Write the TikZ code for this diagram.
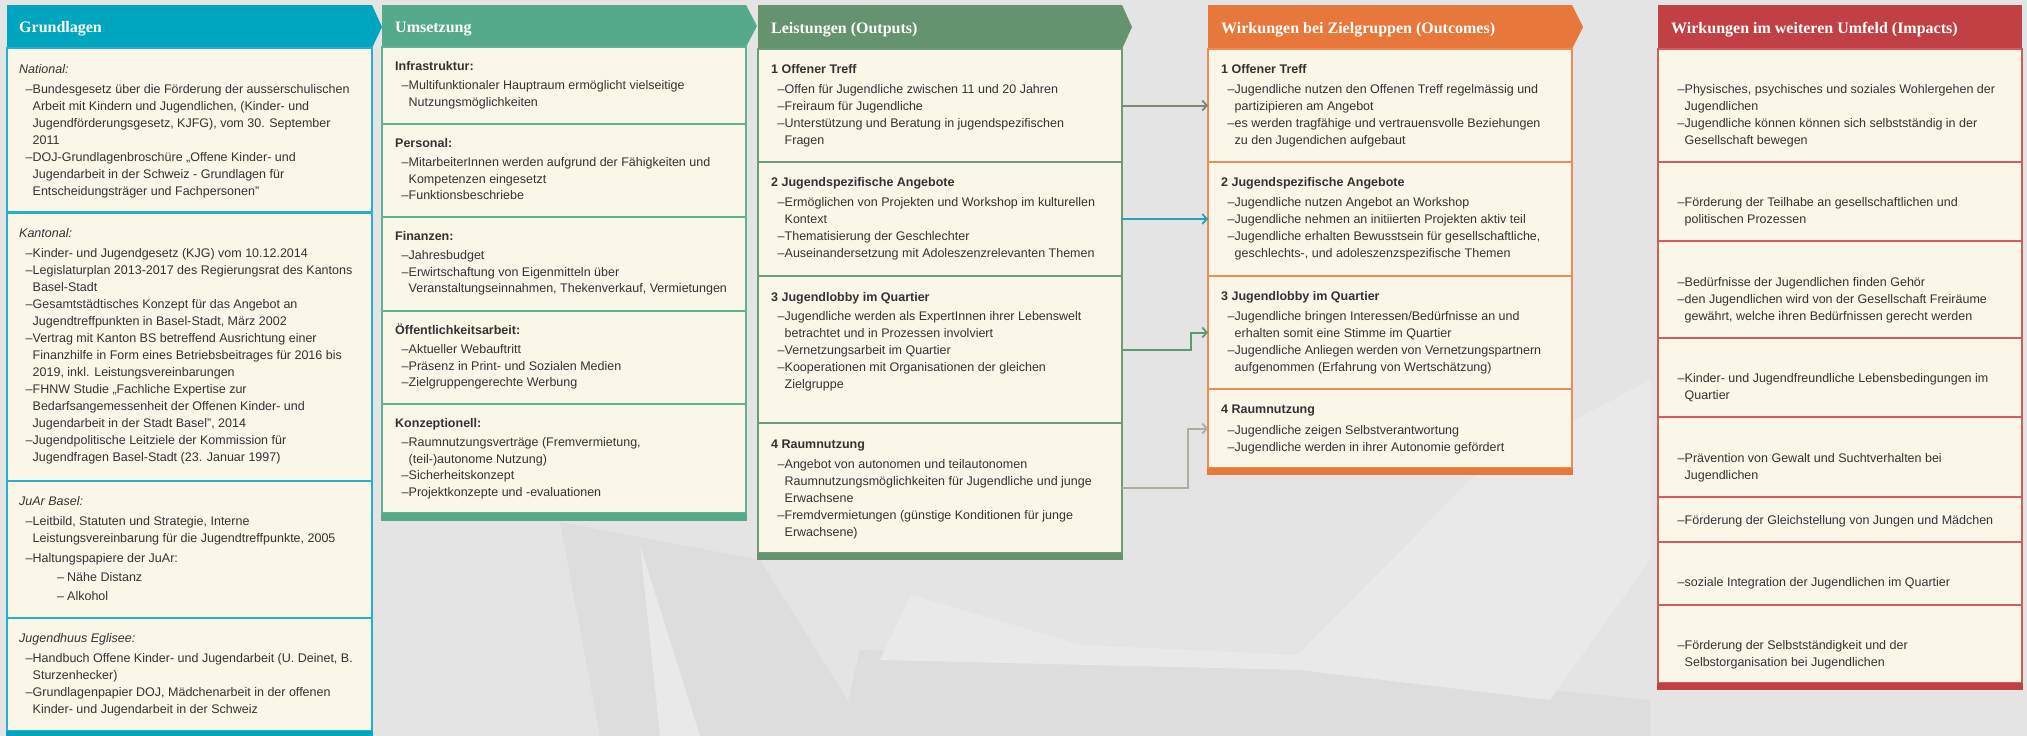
\documentclass[tikz,border=0pt]{standalone}
\usepackage{fontspec}
\setmainfont{Liberation Sans}
\newfontfamily\hdfont{Liberation Serif}
\usetikzlibrary{arrows.meta}

\definecolor{bgc}{HTML}{E4E4E4}
\definecolor{bgd}{HTML}{DDDDDD}
\definecolor{bgl}{HTML}{E9E9E9}
\definecolor{cream}{HTML}{FAF7E8}
\definecolor{cA}{HTML}{00A6C0}
\definecolor{cB}{HTML}{55AA8A}
\definecolor{cC}{HTML}{66936F}
\definecolor{cD}{HTML}{E8773B}
\definecolor{cE}{HTML}{C14044}
\definecolor{bA}{HTML}{27B0C8}
\definecolor{bB}{HTML}{5FB292}
\definecolor{bC}{HTML}{6F9B77}
\definecolor{bD}{HTML}{EE8B58}
\definecolor{bE}{HTML}{D35B5D}
\definecolor{txtc}{HTML}{333333}
\definecolor{aA}{HTML}{7F8670}
\definecolor{aB}{HTML}{22A6B4}
\definecolor{aC}{HTML}{5C9A72}
\definecolor{aD}{HTML}{AEAB9F}

\newcommand\itm{\hspace*{6.5pt}\makebox[7pt][l]{–}}
\newcommand\contln{\hspace*{13.5pt}}
\newcommand\subitm{\hspace*{38pt}\makebox[10pt][l]{–}}
\newcommand\ilbl[1]{\strut\textit{#1}}
\newcommand\blbl[1]{\strut\textbf{#1}}

\begin{document}
\begin{tikzpicture}[x=1pt,y=-1pt,
  sec/.style={draw=#1, line width=1.5pt, fill=cream, anchor=north west,
    inner sep=0pt, outer sep=0pt, minimum width=364pt},
  body/.style={anchor=north west, inner sep=0pt, align=left,
    font=\fontsize{12.5}{17}\selectfont, text=txtc},
  hd/.style={anchor=base west, inner sep=0pt, text=white,
    font=\hdfont\bfseries\fontsize{16}{19}\selectfont},
  arrowc/.style={draw=#1, line width=2pt,
    -{Straight Barb[length=4.5pt,width=10pt,line width=1.8pt]}}]

% background
\fill[bgc] (0,0) rectangle (2027,736);
\useasboundingbox (0,0) rectangle (2027,736);
\fill[bgd] (560,522) -- (760,560) -- (870,736) -- (600,736) -- cycle;
\fill[bgd] (860,650) -- (1082,655) -- (1298,665) -- (1650,700) -- (1650,736) -- (840,736) -- cycle;
\fill[bgl] (911,595) -- (1082,645) -- (1298,655) -- (1480,470) -- (1650,380) -- (1650,560) -- (1550,700) -- (1300,670) -- (880,660) -- cycle;
\fill[bgl] (640,545) -- (700,736) -- (660,736) -- cycle;

% ---------------- Column 1: Grundlagen
\fill[cA] (7,5) -- (372,5) -- (382,27) -- (372,48) -- (7,48) -- cycle;
\node[hd] (gh) at (19,32.5) {Grundlagen};
\node[sec=bA, minimum width=365pt, minimum height=164pt] (g1) at (7,48) {};
\node[sec=bA, minimum width=365pt, minimum height=268pt] (g2) at (7,213) {};
\node[sec=bA, minimum width=365pt, minimum height=137pt] (g3) at (7,481) {};
\node[sec=bA, minimum width=365pt, minimum height=113pt] (g4) at (7,618) {};
\fill[cA] (6.25,731) rectangle (372.75,740);

\node[body] (g1t) at (19,61) {\ilbl{National:}\\[3pt]
\itm Bundesgesetz über die Förderung der ausserschulischen\\
\contln Arbeit mit Kindern und Jugendlichen, (Kinder- und\\
\contln Jugendförderungsgesetz, KJFG), vom 30. September\\
\contln 2011\\
\itm DOJ-Grundlagenbroschüre „Offene Kinder- und\\
\contln Jugendarbeit in der Schweiz - Grundlagen für\\
\contln Entscheidungsträger und Fachpersonen”};

\node[body] (g2t) at (19,225) {\ilbl{Kantonal:}\\[3pt]
\itm Kinder- und Jugendgesetz (KJG) vom 10.12.2014\\
\itm Legislaturplan 2013-2017 des Regierungsrat des Kantons\\
\contln Basel-Stadt\\
\itm Gesamtstädtisches Konzept für das Angebot an\\
\contln Jugendtreffpunkten in Basel-Stadt, März 2002\\
\itm Vertrag mit Kanton BS betreffend Ausrichtung einer\\
\contln Finanzhilfe in Form eines Betriebsbeitrages für 2016 bis\\
\contln 2019, inkl. Leistungsvereinbarungen\\
\itm FHNW Studie „Fachliche Expertise zur\\
\contln Bedarfsangemessenheit der Offenen Kinder- und\\
\contln Jugendarbeit in der Stadt Basel”, 2014\\
\itm Jugendpolitische Leitziele der Kommission für\\
\contln Jugendfragen Basel-Stadt (23. Januar 1997)};

\node[body] (g3t) at (19,493) {\ilbl{JuAr Basel:}\\[3pt]
\itm Leitbild, Statuten und Strategie, Interne\\
\contln Leistungsvereinbarung für die Jugendtreffpunkte, 2005\\[3pt]
\itm Haltungspapiere der JuAr:\\[2pt]
\subitm Nähe Distanz\\[2pt]
\subitm Alkohol};

\node[body] (g4t) at (19,630) {\ilbl{Jugendhuus Eglisee:}\\[3pt]
\itm Handbuch Offene Kinder- und Jugendarbeit (U. Deinet, B.\\
\contln Sturzenhecker)\\
\itm Grundlagenpapier DOJ, Mädchenarbeit in der offenen\\
\contln Kinder- und Jugendarbeit in der Schweiz};

% ---------------- Column 2: Umsetzung
\fill[cB] (382,5) -- (746,5) -- (757,26) -- (746,47) -- (382,47) -- cycle;
\node[hd] (uh) at (395,32) {Umsetzung};
\node[sec=bB, minimum height=77pt] (u1) at (382,47) {};
\node[sec=bB, minimum height=93pt] (u2) at (382,124) {};
\node[sec=bB, minimum height=94pt] (u3) at (382,217) {};
\node[sec=bB, minimum height=93pt] (u4) at (382,311) {};
\node[sec=bB, minimum height=109pt] (u5) at (382,404) {};
\fill[cB] (381.25,513) rectangle (746.75,521);

\node[body, font=\fontsize{12.5}{16.7}\selectfont] (u1t) at (395,59) {\blbl{Infrastruktur:}\\[2pt]
\itm Multifunktionaler Hauptraum ermöglicht vielseitige\\
\contln Nutzungsmöglichkeiten};
\node[body, font=\fontsize{12.5}{16.7}\selectfont] (u2t) at (395,136) {\blbl{Personal:}\\[2pt]
\itm MitarbeiterInnen werden aufgrund der Fähigkeiten und\\
\contln Kompetenzen eingesetzt\\
\itm Funktionsbeschriebe};
\node[body, font=\fontsize{12.5}{16.7}\selectfont] (u3t) at (395,229) {\blbl{Finanzen:}\\[2pt]
\itm Jahresbudget\\
\itm Erwirtschaftung von Eigenmitteln über\\
\contln Veranstaltungseinnahmen, Thekenverkauf, Vermietungen};
\node[body, font=\fontsize{12.5}{16.7}\selectfont] (u4t) at (395,323) {\blbl{Öffentlichkeitsarbeit:}\\[2pt]
\itm Aktueller Webauftritt\\
\itm Präsenz in Print- und Sozialen Medien\\
\itm Zielgruppengerechte Werbung};
\node[body, font=\fontsize{12.5}{16.7}\selectfont] (u5t) at (395,416) {\blbl{Konzeptionell:}\\[2pt]
\itm Raumnutzungsverträge (Fremvermietung,\\
\contln (teil-)autonome Nutzung)\\
\itm Sicherheitskonzept\\
\itm Projektkonzepte und -evaluationen};

% ---------------- Column 3: Leistungen
\fill[cC] (758,5) -- (1122,5) -- (1132,27) -- (1122,49) -- (758,49) -- cycle;
\node[hd] (lh) at (771,33) {Leistungen (Outputs)};
\node[sec=bC, minimum height=113pt] (l1) at (758,49) {};
\node[sec=bC, minimum height=114pt] (l2) at (758,162) {};
\node[sec=bC, minimum height=147pt] (l3) at (758,276) {};
\node[sec=bC, minimum height=130pt] (l4) at (758,423) {};
\fill[cC] (757.25,553) rectangle (1122.75,560);

\node[body] (l1t) at (771,61) {\blbl{1 Offener Treff}\\[3pt]
\itm Offen für Jugendliche zwischen 11 und 20 Jahren\\
\itm Freiraum für Jugendliche\\
\itm Unterstützung und Beratung in jugendspezifischen\\
\contln Fragen};
\node[body] (l2t) at (771,174) {\blbl{2 Jugendspezifische Angebote}\\[3pt]
\itm Ermöglichen von Projekten und Workshop im kulturellen\\
\contln Kontext\\
\itm Thematisierung der Geschlechter\\
\itm Auseinandersetzung mit Adoleszenzrelevanten Themen};
\node[body] (l3t) at (771,289) {\blbl{3 Jugendlobby im Quartier}\\[2pt]
\itm Jugendliche werden als ExpertInnen ihrer Lebenswelt\\
\contln betrachtet und in Prozessen involviert\\
\itm Vernetzungsarbeit im Quartier\\
\itm Kooperationen mit Organisationen der gleichen\\
\contln Zielgruppe};
\node[body] (l4t) at (771,436) {\blbl{4 Raumnutzung}\\[3pt]
\itm Angebot von autonomen und teilautonomen\\
\contln Raumnutzungsmöglichkeiten für Jugendliche und junge\\
\contln Erwachsene\\
\itm Fremdvermietungen (günstige Konditionen für junge\\
\contln Erwachsene)};

% ---------------- Column 4: Outcomes
\fill[cD] (1208,5) -- (1572,5) -- (1583,27) -- (1572,49) -- (1208,49) -- cycle;
\node[hd] (oh) at (1221,33) {Wirkungen bei Zielgruppen (Outcomes)};
\node[sec=bD, minimum height=113pt] (o1) at (1208,49) {};
\node[sec=bD, minimum height=114pt] (o2) at (1208,162) {};
\node[sec=bD, minimum height=113pt] (o3) at (1208,276) {};
\node[sec=bD, minimum height=79pt] (o4) at (1208,389) {};
\fill[cD] (1207.25,468) rectangle (1572.75,475);

\node[body] (o1t) at (1221,61) {\blbl{1 Offener Treff}\\[3pt]
\itm Jugendliche nutzen den Offenen Treff regelmässig und\\
\contln partizipieren am Angebot\\
\itm es werden tragfähige und vertrauensvolle Beziehungen\\
\contln zu den Jugendichen aufgebaut};
\node[body] (o2t) at (1221,174) {\blbl{2 Jugendspezifische Angebote}\\[3pt]
\itm Jugendliche nutzen Angebot an Workshop\\
\itm Jugendliche nehmen an initiierten Projekten aktiv teil\\
\itm Jugendliche erhalten Bewusstsein für gesellschaftliche,\\
\contln geschlechts-, und adoleszenzspezifische Themen};
\node[body] (o3t) at (1221,288) {\blbl{3 Jugendlobby im Quartier}\\[3pt]
\itm Jugendliche bringen Interessen/Bedürfnisse an und\\
\contln erhalten somit eine Stimme im Quartier\\
\itm Jugendliche Anliegen werden von Vernetzungspartnern\\
\contln aufgenommen (Erfahrung von Wertschätzung)};
\node[body] (o4t) at (1221,401) {\blbl{4 Raumnutzung}\\[4pt]
\itm Jugendliche zeigen Selbstverantwortung\\
\itm Jugendliche werden in ihrer Autonomie gefördert};

% ---------------- Column 5: Impacts
\fill[cE] (1658,5) rectangle (2022,49);
\node[hd] (ih) at (1671,33) {Wirkungen im weiteren Umfeld (Impacts)};
\node[sec=bE, minimum height=113pt] (i1) at (1658,49) {};
\node[sec=bE, minimum height=79pt] (i2) at (1658,162) {};
\node[sec=bE, minimum height=97pt] (i3) at (1658,241) {};
\node[sec=bE, minimum height=79pt] (i4) at (1658,338) {};
\node[sec=bE, minimum height=80pt] (i5) at (1658,417) {};
\node[sec=bE, minimum height=45pt] (i6) at (1658,497) {};
\node[sec=bE, minimum height=63pt] (i7) at (1658,542) {};
\node[sec=bE, minimum height=78pt] (i8) at (1658,605) {};
\fill[cE] (1657.25,683) rectangle (2022.75,690);

\node[body] (i1t) at (1671,81) {\strut\itm Physisches, psychisches und soziales Wohlergehen der\\
\contln Jugendlichen\\
\itm Jugendliche können können sich selbstständig in der\\
\contln Gesellschaft bewegen};
\node[body] (i2t) at (1671,194) {\strut\itm Förderung der Teilhabe an gesellschaftlichen und\\
\contln politischen Prozessen};
\node[body] (i3t) at (1671,274) {\strut\itm Bedürfnisse der Jugendlichen finden Gehör\\
\itm den Jugendlichen wird von der Gesellschaft Freiräume\\
\contln gewährt, welche ihren Bedürfnissen gerecht werden};
\node[body] (i4t) at (1671,370) {\strut\itm Kinder- und Jugendfreundliche Lebensbedingungen im\\
\contln Quartier};
\node[body] (i5t) at (1671,450) {\strut\itm Prävention von Gewalt und Suchtverhalten bei\\
\contln Jugendlichen};
\node[body] (i6t) at (1671,512) {\strut\itm Förderung der Gleichstellung von Jungen und Mädchen};
\node[body] (i7t) at (1671,574) {\strut\itm soziale Integration der Jugendlichen im Quartier};
\node[body] (i8t) at (1671,637) {\strut\itm Förderung der Selbstständigkeit und der\\
\contln Selbstorganisation bei Jugendlichen};

% ---------------- Connectors
\draw[arrowc=aA] (l1.east) -- (o1.west);
\draw[arrowc=aB] (l2.east) -- (o2.west);
\draw[arrowc=aC] (l3.east) -- ++(69,0) |- (o3.west);
\draw[arrowc=aD] (l4.east) -- ++(66,0) |- (o4.west);
\end{tikzpicture}
\end{document}
